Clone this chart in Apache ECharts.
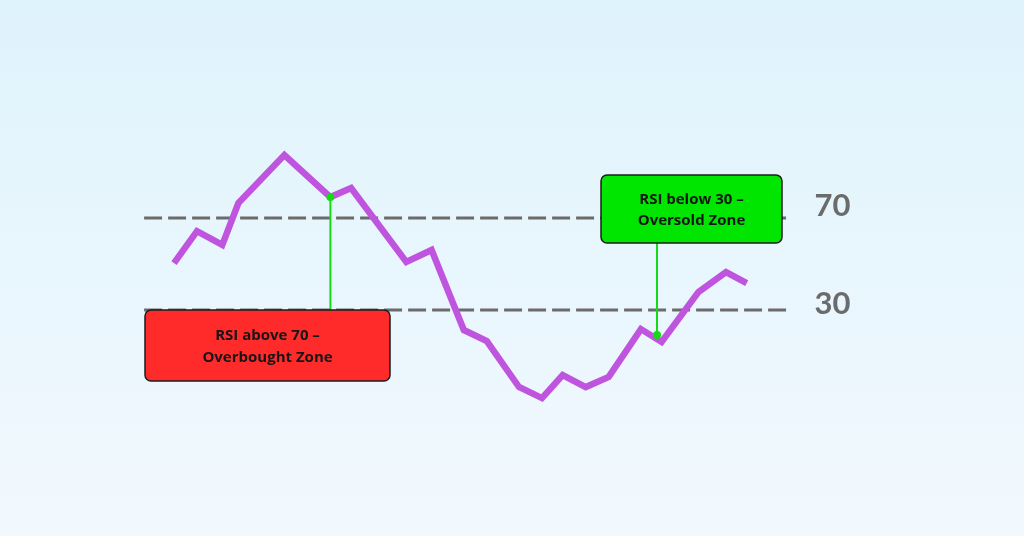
<!DOCTYPE html>
<html>
<head>
<meta charset="utf-8">
<script src="https://cdn.jsdelivr.net/npm/echarts@6/dist/echarts.min.js"></script>
<style>
	html,body{margin:0;padding:0;}
	#main{width:1024px;height:536px;background:linear-gradient(to bottom,#dff3fc 0%,#f2f9fe 100%);}
</style>
</head>
<body>
<div id="main"></div>
<script>
// periods and RSI readings
var periods = [0, 1, 2.1, 2.8, 4.8, 6.8, 7.7, 10.1, 11.2, 12.6, 13.6, 15, 16, 16.9, 17.9, 18.9, 20.3, 21.2, 22.8, 24, 24.9];
var rsi = [50.4, 64.3, 58.3, 76.5, 97.4, 79.1, 83, 50.9, 56.1, 21.3, 16.5, -3.5, -8.3, 1.7, -3.5, 0.9, 21.7, 16.1, 37.8, 46.5, 41.7];

var levels = [70, 30];
var levelLabels = ['70', '30'];
var levelStart = -1.3;
var levelEnd = 26.8;

// callouts: the dot on the curve and where the box edge sits
var calloutX = [6.8, 21.0];
var calloutY = [79.1, 19.1];
var calloutEdge = [30, 59.1];
var calloutText = ['RSI above 70 \u2013\nOverbought Zone', 'RSI below 30 \u2013\nOversold Zone'];

var chart = echarts.init(document.getElementById('main'));

var series = [];
series.push({
	type: 'line',
	data: periods.map(function(p, i){ return [p, rsi[i]]; }),
	showSymbol: false,
	symbol: 'none',
	lineStyle: {color: '#bf55de', width: 6.5, join: 'miter'},
	z: 3,
	silent: true
});

for (var i = 0; i < levels.length; i++) {
	series.push({
		type: 'line',
		data: [[levelStart, levels[i]], [levelEnd, levels[i]]],
		symbol: 'none',
		lineStyle: {color: '#6b6b6b', width: 3, type: [18, 6]},
		endLabel: {
			show: true,
			formatter: levelLabels[i],
			color: '#6b6b6b',
			fontFamily: 'Lato',
			fontWeight: 'bold',
			fontSize: 31,
			distance: 24,
			offset: [0, i == 0 ? -12 : -6]
		},
		z: 2,
		silent: true
	});
}

for (var j = 0; j < calloutX.length; j++) {
	series.push({
		type: 'line',
		data: [
			{value: [calloutX[j], calloutY[j]], symbol: 'circle', symbolSize: 8},
			{value: [calloutX[j], calloutEdge[j]], symbol: 'none'}
		],
		showAllSymbol: true,
		itemStyle: {color: '#14dc14'},
		lineStyle: {color: '#14dc14', width: 2},
		z: 4,
		silent: true
	});
}

function box(x, y, w, h, fill, text, lh){
	return [{
		type: 'rect',
		shape: {x: x, y: y, width: w, height: h, r: 6},
		style: {fill: fill, stroke: '#1c1c1c', lineWidth: 1.5},
		z: 10
	}, {
		type: 'text',
		x: x + w / 2,
		y: y + h / 2 + 1,
		style: {
			text: text,
			fill: '#161616',
			fontFamily: 'Open Sans',
			fontWeight: 'bold',
			fontSize: 15,
			align: 'center',
			verticalAlign: 'middle',
			lineHeight: lh
		},
		z: 11
	}];
}

var option = {
	animation: false,
	grid: {left: 128, right: 22, top: 34, bottom: 19},
	xAxis: {type: 'value', min: -2, max: 36, show: false},
	yAxis: {type: 'value', min: -60, max: 150, show: false},
	series: series,
	graphic: box(145, 310, 245, 71, '#ff2b2b', calloutText[0], 22)
		.concat(box(601, 175, 181, 68, '#00e600', calloutText[1], 21))
};

chart.setOption(option);
</script>
</body>
</html>
